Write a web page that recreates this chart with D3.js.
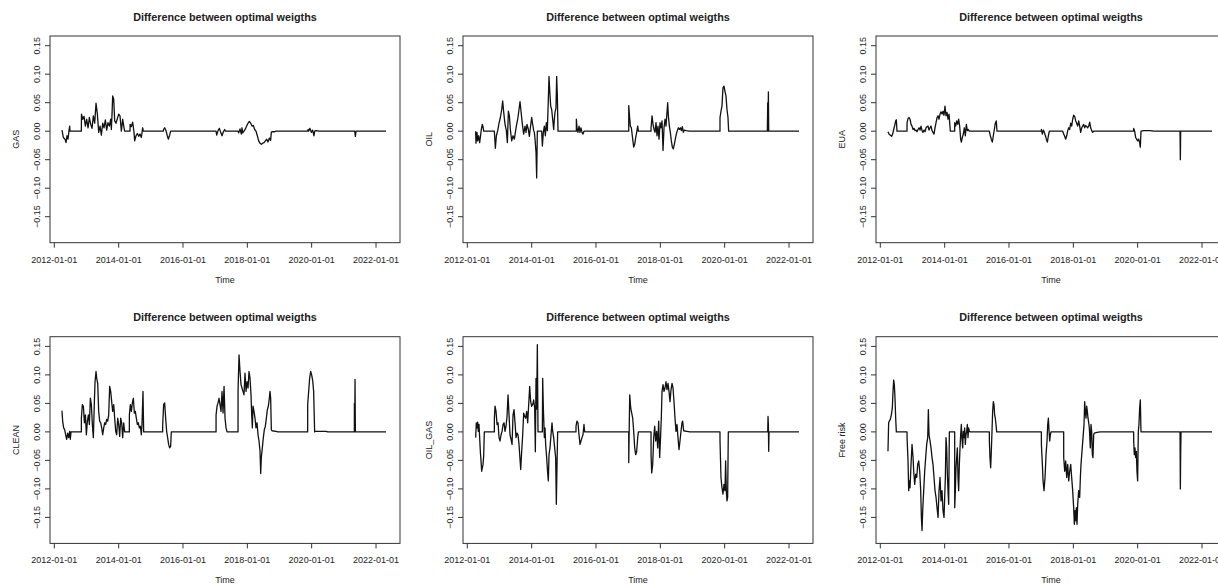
<!DOCTYPE html>
<html>
<head>
<meta charset="utf-8">
<script src="https://cdn.jsdelivr.net/npm/d3@7"></script>
<style>
  html, body { margin: 0; padding: 0; background: #fff; }
  svg { display: block; }
  text { font-family: "Liberation Sans", Arial, sans-serif; fill: #222; }
</style>
</head>
<body>
<div id="chart"></div>
<script>
// ---- data (time in decimal years, value = weight difference) ----
const seriesNames = ["GAS", "OIL", "EUA", "CLEAN", "OIL_GAS", "Free risk"];
const chartTitle = "Difference between optimal weigths";
const xAxisTitle = "Time";
const xTickLabels = ["2012-01-01", "2014-01-01", "2016-01-01", "2018-01-01", "2020-01-01", "2022-01-01"];
const yTickValues = [-0.15, -0.10, -0.05, 0.00, 0.05, 0.10, 0.15];

const GAS = [
[2012.238,0.002],[2012.280,-0.011],[2012.332,-0.014],[2012.363,-0.020],[2012.394,-0.008],[2012.425,-0.014],[2012.456,0.001],[2012.477,0.009],[2012.487,0],
[2012.839,0],[2012.843,0.030],[2012.881,0.021],[2012.922,0.026],[2012.964,0.009],[2013.005,0.021],[2013.047,0.006],[2013.088,0.024],[2013.130,0.012],[2013.171,0.005],[2013.212,0.027],[2013.254,0.014],[2013.295,0.049],[2013.337,0.030],[2013.378,-0.002],[2013.420,0.009],[2013.461,-0.007],[2013.503,0.014],[2013.544,0.006],[2013.585,0.020],[2013.627,0.002],[2013.668,0.015],[2013.710,0.009],[2013.751,0.021],[2013.772,0.003],[2013.793,0.030],[2013.813,0.062],[2013.845,0.056],[2013.876,0.018],[2013.917,0.014],[2013.959,0.022],[2014.000,0.030],[2014.041,0.027],[2014.083,0.000],[2014.124,0.021],[2014.166,0.006],[2014.187,0],
[2014.352,0],[2014.356,0.012],[2014.394,0.008],[2014.435,0.016],[2014.477,-0.002],[2014.497,-0.017],[2014.539,-0.008],[2014.580,-0.004],[2014.622,-0.009],[2014.663,-0.005],[2014.705,-0.011],[2014.746,0.006],[2014.767,0],
[2015.389,0],[2015.395,0.003],[2015.430,0.006],[2015.472,0.001],[2015.513,-0.008],[2015.544,-0.014],[2015.585,-0.007],[2015.617,0],
[2017.026,0],[2017.047,-0.007],[2017.088,0.001],[2017.130,0.005],[2017.171,-0.002],[2017.212,-0.008],[2017.254,-0.001],[2017.295,0.003],[2017.316,0],
[2017.710,0],[2017.731,-0.003],[2017.772,0.004],[2017.813,-0.005],[2017.834,0.006],[2017.855,-0.003],[2017.896,0],[2017.938,0.004],[2017.979,0.009],[2018.021,0.014],[2018.062,0.017],[2018.104,0.014],[2018.145,0.009],[2018.187,0.010],[2018.228,0.003],[2018.269,0],[2018.311,-0.008],[2018.352,-0.017],[2018.394,-0.021],[2018.435,-0.023],[2018.477,-0.021],[2018.518,-0.020],[2018.560,-0.017],[2018.601,-0.014],[2018.642,-0.019],[2018.684,-0.012],[2018.725,-0.016],[2018.746,-0.002],[2018.767,-0.001],[2018.850,-0.001],[2018.891,0],
[2019.876,0],[2019.890,0.003],[2019.907,0],[2019.948,0.005],[2019.990,-0.002],[2020.031,0.002],[2020.073,-0.008],[2020.093,0],[2020.135,0.001],[2020.238,0],
[2021.337,0],[2021.358,-0.009],[2021.378,0],[2022.311,0]
];

const OIL = [
[2012.259,0],[2012.269,-0.021],[2012.301,-0.002],[2012.321,-0.017],[2012.352,-0.008],[2012.383,-0.020],[2012.404,-0.011],[2012.435,0.003],[2012.466,0.012],[2012.487,0.008],[2012.508,0],
[2012.839,0],[2012.870,-0.030],[2012.902,-0.008],[2012.943,0.001],[2012.984,0.014],[2013.026,0.024],[2013.067,0.038],[2013.098,0.053],[2013.130,0.033],[2013.171,0.012],[2013.212,0.001],[2013.244,-0.020],[2013.275,0.035],[2013.306,0.027],[2013.337,0.003],[2013.378,-0.017],[2013.420,-0.008],[2013.461,-0.014],[2013.492,-0.002],[2013.523,0.009],[2013.565,0.021],[2013.606,0.038],[2013.637,0.052],[2013.668,0.035],[2013.710,0.012],[2013.751,-0.005],[2013.793,0.009],[2013.824,-0.002],[2013.855,0.012],[2013.896,0.003],[2013.927,-0.009],[2013.959,0.006],[2014.000,0.024],[2014.031,0.012],[2014.062,0.001],[2014.083,-0.002],[2014.104,-0.014],[2014.135,-0.037],[2014.155,-0.082],[2014.176,0],
[2014.311,0],[2014.332,-0.026],[2014.363,-0.002],[2014.394,0.009],[2014.425,-0.008],[2014.456,0.015],[2014.487,0.001],[2014.518,0.056],[2014.539,0.096],[2014.560,0.073],[2014.591,0.044],[2014.622,0.038],[2014.653,0.021],[2014.684,0.003],[2014.705,0.021],[2014.725,0.033],[2014.756,0.041],[2014.777,0.096],[2014.798,0.062],[2014.819,0],
[2015.389,0],[2015.390,0.021],[2015.409,0.006],[2015.440,-0.002],[2015.472,0.009],[2015.503,-0.002],[2015.534,0.006],[2015.565,-0.002],[2015.596,-0.005],[2015.627,0],
[2017.016,0],[2017.017,0.045],[2017.036,0.030],[2017.067,0.009],[2017.098,0.006],[2017.140,-0.014],[2017.171,-0.028],[2017.202,-0.023],[2017.233,-0.011],[2017.264,-0.002],[2017.295,0.009],[2017.316,0],
[2017.710,0],[2017.711,0.006],[2017.741,0.027],[2017.772,0.012],[2017.803,0.003],[2017.834,-0.002],[2017.865,0.015],[2017.896,-0.008],[2017.927,0.009],[2017.959,-0.014],[2017.990,0.015],[2018.021,0.006],[2018.052,0.018],[2018.083,-0.034],[2018.114,0.006],[2018.145,0.021],[2018.176,0.009],[2018.207,0.033],[2018.228,0.050],[2018.249,0.027],[2018.280,0.009],[2018.311,-0.002],[2018.342,-0.017],[2018.373,-0.028],[2018.404,-0.031],[2018.435,-0.023],[2018.466,-0.014],[2018.497,-0.005],[2018.528,0.001],[2018.560,0.006],[2018.591,0.003],[2018.622,0.006],[2018.653,0.001],[2018.684,0.008],[2018.715,-0.002],[2018.746,0.002],[2018.800,0.001],[2018.900,0],
[2019.855,0],[2019.856,0.024],[2019.886,0.035],[2019.917,0.044],[2019.948,0.076],[2019.979,0.079],[2020.010,0.070],[2020.041,0.062],[2020.073,0.038],[2020.104,0.024],[2020.124,0],
[2021.326,0],[2021.337,0.050],[2021.347,0],[2021.358,0.069],[2021.368,0],[2022.311,0]
];

const EUA = [
[2012.238,-0.001],[2012.269,-0.005],[2012.311,-0.007],[2012.352,-0.009],[2012.383,-0.005],[2012.415,0.003],[2012.446,0.010],[2012.477,0.018],[2012.497,0.020],[2012.518,0],
[2012.829,0],[2012.830,0.015],[2012.860,0.022],[2012.891,0.024],[2012.922,0.021],[2012.953,0.012],[2012.984,0.009],[2013.016,0.003],[2013.047,0.005],[2013.078,0.001],[2013.109,0.002],[2013.140,-0.001],[2013.171,0.003],[2013.202,0.006],[2013.233,0.002],[2013.264,0.009],[2013.295,0.001],[2013.326,-0.002],[2013.358,0.002],[2013.389,-0.001],[2013.420,0.006],[2013.451,0.008],[2013.482,0.009],[2013.513,0.002],[2013.544,0.006],[2013.575,0.009],[2013.606,0.001],[2013.637,-0.002],[2013.668,-0.005],[2013.699,0.006],[2013.731,0.015],[2013.762,0.024],[2013.793,0.027],[2013.824,0.021],[2013.855,0.030],[2013.886,0.034],[2013.917,0.030],[2013.948,0.035],[2013.979,0.028],[2014.010,0.044],[2014.041,0.027],[2014.073,0.033],[2014.104,0.021],[2014.135,0.030],[2014.176,0],
[2014.311,0],[2014.312,0.015],[2014.342,0.009],[2014.373,0.018],[2014.404,0.012],[2014.435,0.021],[2014.466,0.009],[2014.497,-0.014],[2014.518,-0.019],[2014.549,-0.011],[2014.580,-0.005],[2014.611,0.006],[2014.642,-0.008],[2014.674,0.012],[2014.705,0.001],[2014.736,0.003],[2014.767,0],
[2015.389,0],[2015.420,-0.008],[2015.451,-0.014],[2015.482,-0.019],[2015.513,-0.008],[2015.544,0.003],[2015.575,0.014],[2015.606,0.018],[2015.627,0],
[2017.005,0],[2017.006,0.003],[2017.036,-0.005],[2017.067,0.002],[2017.098,-0.002],[2017.130,-0.008],[2017.161,-0.014],[2017.192,-0.019],[2017.223,-0.008],[2017.254,0],
[2017.668,0],[2017.699,-0.005],[2017.731,-0.009],[2017.762,-0.014],[2017.793,-0.008],[2017.824,0.001],[2017.855,0.006],[2017.886,0.003],[2017.917,0.014],[2017.948,0.009],[2017.979,0.021],[2018.010,0.028],[2018.041,0.026],[2018.073,0.018],[2018.104,0.014],[2018.135,0.009],[2018.166,0.018],[2018.197,0.009],[2018.228,-0.002],[2018.259,0.006],[2018.290,0.009],[2018.321,0.012],[2018.352,0.006],[2018.383,0.010],[2018.415,0.008],[2018.446,0.006],[2018.477,0.009],[2018.508,0.016],[2018.539,0.006],[2018.570,0.001],[2018.601,-0.002],[2018.632,0],
[2019.876,0],[2019.877,0.005],[2019.907,0],[2019.938,-0.011],[2019.969,-0.014],[2020.000,-0.017],[2020.031,-0.014],[2020.062,-0.020],[2020.083,-0.028],[2020.104,0],[2020.187,0.001],[2020.394,0.001],[2020.497,0],
[2021.316,0],[2021.326,-0.050],[2021.336,0],[2022.311,0]
];

const CLEAN = [
[2012.238,0.037],[2012.259,0.019],[2012.290,0.007],[2012.321,0.004],[2012.352,-0.005],[2012.383,-0.013],[2012.415,-0.002],[2012.446,-0.010],[2012.477,0.001],[2012.497,-0.013],[2012.518,0],
[2012.839,0],[2012.840,0.024],[2012.870,0.048],[2012.902,0.045],[2012.933,0.016],[2012.964,0.030],[2012.995,-0.005],[2013.026,0.019],[2013.057,0.030],[2013.088,0.013],[2013.119,0.059],[2013.150,0.048],[2013.181,0.013],[2013.212,-0.010],[2013.244,0.053],[2013.264,0.088],[2013.295,0.106],[2013.316,0.094],[2013.347,0.085],[2013.378,0.036],[2013.409,0.019],[2013.440,0.016],[2013.472,0.007],[2013.503,-0.005],[2013.534,0.007],[2013.565,0.016],[2013.596,0.013],[2013.627,0.022],[2013.658,0.019],[2013.689,0.030],[2013.720,0.080],[2013.751,0.071],[2013.782,0.053],[2013.813,0.036],[2013.845,0.048],[2013.876,0.024],[2013.907,0.001],[2013.938,-0.005],[2013.969,0.024],[2014.000,0.013],[2014.031,-0.008],[2014.062,0.024],[2014.093,0.016],[2014.124,-0.010],[2014.155,0.016],[2014.187,0],
[2014.332,0],[2014.333,0.030],[2014.363,0.048],[2014.394,0.036],[2014.425,0.051],[2014.456,0.059],[2014.487,0.033],[2014.518,0.036],[2014.549,0.024],[2014.580,0.013],[2014.611,0.016],[2014.642,0.007],[2014.674,0.010],[2014.705,-0.005],[2014.725,0.013],[2014.756,0.071],[2014.777,0],
[2015.368,0],[2015.369,0.013],[2015.399,0.048],[2015.430,0.051],[2015.461,0.024],[2015.492,0.001],[2015.523,-0.010],[2015.554,-0.022],[2015.585,-0.028],[2015.617,-0.025],[2015.637,0],
[2017.026,0],[2017.027,0.030],[2017.057,0.045],[2017.088,0.051],[2017.119,0.059],[2017.150,0.048],[2017.181,0.036],[2017.212,0.071],[2017.244,0.033],[2017.275,0.080],[2017.306,0.024],[2017.337,0.007],[2017.368,0],
[2017.710,0],[2017.711,0.074],[2017.741,0.135],[2017.772,0.106],[2017.803,0.083],[2017.834,0.077],[2017.865,0.071],[2017.896,0.065],[2017.927,0.103],[2017.959,0.071],[2017.990,0.088],[2018.021,0.077],[2018.052,0.106],[2018.083,0.094],[2018.114,0.065],[2018.135,0.030],[2018.155,0.007],[2018.176,0.045],[2018.207,0.036],[2018.238,0.024],[2018.269,0.007],[2018.301,0.016],[2018.332,-0.005],[2018.363,-0.016],[2018.394,-0.034],[2018.415,-0.073],[2018.435,-0.045],[2018.466,-0.028],[2018.497,-0.010],[2018.528,0.004],[2018.560,0.010],[2018.591,0.024],[2018.622,0.039],[2018.653,0.045],[2018.684,0.059],[2018.705,0.071],[2018.725,0.059],[2018.746,0.004],[2018.767,0.002],[2018.891,0.001],[2018.950,0],
[2019.876,0],[2019.877,0.048],[2019.907,0.071],[2019.938,0.094],[2019.969,0.106],[2020.000,0.100],[2020.031,0.091],[2020.062,0.071],[2020.093,0],[2020.100,0.001],[2020.446,0.001],[2020.500,0],
[2021.326,0],[2021.327,0.050],[2021.337,0],[2021.347,0.092],[2021.358,0],[2022.311,0]
];

const OIL_GAS = [
[2012.259,-0.010],[2012.280,0.016],[2012.301,0.007],[2012.321,0.017],[2012.342,0.001],[2012.363,0.013],[2012.383,-0.010],[2012.404,-0.034],[2012.425,-0.051],[2012.446,-0.069],[2012.466,-0.063],[2012.487,-0.057],[2012.508,-0.042],[2012.528,0],
[2012.839,0],[2012.840,0.024],[2012.860,0.045],[2012.891,0.036],[2012.922,0.013],[2012.953,0.016],[2012.984,-0.010],[2013.016,-0.016],[2013.047,-0.005],[2013.078,0.001],[2013.109,0.013],[2013.140,0.016],[2013.171,0.001],[2013.202,0.010],[2013.233,0.027],[2013.264,0.065],[2013.295,0.030],[2013.326,-0.005],[2013.358,-0.013],[2013.389,-0.022],[2013.420,0.030],[2013.451,0.039],[2013.482,0.016],[2013.513,-0.010],[2013.544,-0.002],[2013.575,-0.005],[2013.606,-0.022],[2013.637,-0.048],[2013.658,-0.066],[2013.689,-0.034],[2013.720,-0.005],[2013.751,0.033],[2013.782,0.027],[2013.813,0.024],[2013.845,0.036],[2013.876,0.016],[2013.907,0.048],[2013.938,0.080],[2013.969,0.053],[2014.000,0.045],[2014.031,0.048],[2014.062,0.056],[2014.093,0.042],[2014.114,-0.035],[2014.135,0.094],[2014.155,0.040],[2014.176,0.153],[2014.197,0],
[2014.332,0],[2014.342,0.094],[2014.363,0.042],[2014.394,-0.010],[2014.415,0.007],[2014.435,-0.022],[2014.466,-0.045],[2014.497,-0.072],[2014.518,-0.086],[2014.539,-0.040],[2014.570,-0.028],[2014.601,-0.005],[2014.632,0.016],[2014.653,0.001],[2014.684,-0.010],[2014.715,-0.028],[2014.746,-0.045],[2014.767,-0.127],[2014.788,-0.057],[2014.808,0],
[2015.378,0],[2015.379,0.010],[2015.409,0.019],[2015.440,0.016],[2015.472,-0.005],[2015.503,-0.022],[2015.534,-0.016],[2015.565,-0.010],[2015.596,-0.005],[2015.627,0.013],[2015.648,0],
[2017.016,0],[2017.017,-0.054],[2017.030,0],[2017.047,0.065],[2017.078,0.042],[2017.109,0.033],[2017.140,0.024],[2017.171,0.001],[2017.202,-0.028],[2017.233,-0.040],[2017.264,-0.034],[2017.295,-0.010],[2017.316,0],
[2017.710,0],[2017.711,-0.040],[2017.731,-0.072],[2017.762,-0.057],[2017.793,-0.010],[2017.824,0.010],[2017.855,-0.016],[2017.886,0.001],[2017.917,-0.028],[2017.948,0.019],[2017.979,-0.045],[2018.010,-0.005],[2018.031,0.027],[2018.052,0.071],[2018.083,0.083],[2018.114,0.071],[2018.145,0.077],[2018.176,0.088],[2018.207,0.074],[2018.238,0.085],[2018.269,0.071],[2018.301,0.053],[2018.332,0.074],[2018.363,0.085],[2018.394,0.077],[2018.425,0.053],[2018.456,0.024],[2018.487,0.001],[2018.518,0.013],[2018.549,-0.010],[2018.580,-0.031],[2018.611,-0.016],[2018.642,0.001],[2018.674,0.016],[2018.694,0.019],[2018.725,0.002],[2018.819,0.001],[2018.922,0],
[2019.855,0],[2019.856,-0.016],[2019.886,-0.080],[2019.917,-0.098],[2019.948,-0.109],[2019.979,-0.092],[2020.010,-0.103],[2020.031,-0.051],[2020.052,-0.103],[2020.073,-0.121],[2020.093,-0.115],[2020.114,0],
[2021.337,0],[2021.347,0.027],[2021.358,0.012],[2021.368,-0.034],[2021.378,0],[2022.311,0]
];

const FREE_RISK = [
[2012.238,-0.034],[2012.259,0.016],[2012.280,0.019],[2012.311,0.022],[2012.342,0.030],[2012.373,0.042],[2012.394,0.071],[2012.415,0.091],[2012.435,0.083],[2012.456,0.059],[2012.477,0.024],[2012.497,0],
[2012.829,0],[2012.830,-0.010],[2012.860,-0.051],[2012.881,-0.103],[2012.902,-0.086],[2012.922,-0.098],[2012.953,-0.057],[2012.984,-0.022],[2013.016,-0.045],[2013.036,-0.069],[2013.067,-0.092],[2013.098,-0.074],[2013.130,-0.080],[2013.161,-0.057],[2013.192,-0.051],[2013.223,-0.069],[2013.254,-0.103],[2013.275,-0.150],[2013.295,-0.173],[2013.316,-0.138],[2013.347,-0.103],[2013.378,-0.069],[2013.409,-0.045],[2013.440,-0.022],[2013.472,-0.010],[2013.492,0.039],[2013.513,-0.005],[2013.544,-0.016],[2013.575,-0.028],[2013.606,-0.045],[2013.637,-0.057],[2013.668,-0.080],[2013.699,-0.103],[2013.731,-0.115],[2013.762,-0.133],[2013.793,-0.150],[2013.824,-0.103],[2013.855,-0.080],[2013.886,-0.121],[2013.917,-0.103],[2013.948,-0.138],[2013.979,-0.150],[2014.000,-0.115],[2014.021,-0.080],[2014.041,-0.010],[2014.062,-0.028],[2014.083,-0.074],[2014.104,-0.103],[2014.124,-0.127],[2014.145,0],
[2014.311,0],[2014.312,-0.133],[2014.332,-0.103],[2014.352,-0.063],[2014.373,-0.045],[2014.394,-0.028],[2014.415,-0.080],[2014.435,-0.103],[2014.456,-0.057],[2014.477,-0.028],[2014.497,-0.005],[2014.518,0.013],[2014.539,-0.013],[2014.560,-0.028],[2014.580,0.001],[2014.601,-0.010],[2014.622,0.007],[2014.642,-0.022],[2014.663,-0.005],[2014.684,0.001],[2014.705,0.013],[2014.725,-0.010],[2014.746,0.007],[2014.767,0.001],[2014.798,0],
[2015.389,0],[2015.390,-0.016],[2015.409,-0.045],[2015.430,-0.063],[2015.451,-0.034],[2015.472,0.001],[2015.492,0.036],[2015.513,0.053],[2015.534,0.048],[2015.554,0.030],[2015.575,0.024],[2015.596,0.013],[2015.617,0],
[2017.005,0],[2017.006,-0.022],[2017.036,-0.057],[2017.057,-0.086],[2017.088,-0.103],[2017.119,-0.080],[2017.150,-0.040],[2017.181,-0.016],[2017.202,0.013],[2017.223,0.024],[2017.244,0.001],[2017.264,-0.016],[2017.285,-0.005],[2017.306,0],
[2017.699,0],[2017.700,-0.045],[2017.731,-0.069],[2017.762,-0.051],[2017.793,-0.080],[2017.824,-0.057],[2017.855,-0.086],[2017.886,-0.069],[2017.917,-0.057],[2017.948,-0.080],[2017.979,-0.103],[2018.010,-0.133],[2018.031,-0.162],[2018.052,-0.138],[2018.073,-0.156],[2018.093,-0.133],[2018.114,-0.162],[2018.135,-0.127],[2018.166,-0.103],[2018.197,-0.115],[2018.218,-0.080],[2018.238,-0.057],[2018.269,-0.034],[2018.301,-0.010],[2018.332,0.013],[2018.352,0.053],[2018.373,0.036],[2018.394,0.024],[2018.415,0.045],[2018.435,0.036],[2018.456,0.024],[2018.477,0.016],[2018.497,0.007],[2018.528,-0.028],[2018.549,0.013],[2018.570,0.001],[2018.591,-0.040],[2018.611,-0.045],[2018.632,-0.005],[2018.653,-0.002],[2018.736,-0.001],[2018.839,0],
[2019.876,0],[2019.877,-0.016],[2019.896,-0.040],[2019.917,-0.028],[2019.938,-0.045],[2019.959,-0.034],[2019.979,-0.069],[2020.000,-0.086],[2020.021,0.001],[2020.041,0.013],[2020.062,0.042],[2020.083,0.056],[2020.104,0],
[2021.316,0],[2021.326,-0.100],[2021.337,-0.034],[2021.347,0],[2022.311,0]
];

const seriesData = [GAS, OIL, EUA, CLEAN, OIL_GAS, FREE_RISK];

// ---- layout ----
const W = 1218, H = 584;
const colLeft = [50, 463, 876];
const rowTop = [36, 336.7];
const pw = 350, ph = 206.7;
const xDomainYears = [2011.866, 2022.746];
const yDomain = [-0.1956, 0.167];

function yearToDate(t) {
  const y = Math.floor(t);
  const s = Date.UTC(y, 0, 1), e = Date.UTC(y + 1, 0, 1);
  return new Date(s + (t - y) * (e - s));
}
const parse = d3.utcParse("%Y-%m-%d");

const svg = d3.select("#chart").append("svg")
  .attr("width", W).attr("height", H);

seriesNames.forEach((name, i) => {
  const col = i % 3, row = Math.floor(i / 3);
  const left = colLeft[col], top = rowTop[row];
  const g = svg.append("g").attr("transform", `translate(${left},${top})`);

  const x = d3.scaleUtc().domain(xDomainYears.map(yearToDate)).range([0, pw]);
  const y = d3.scaleLinear().domain(yDomain).range([ph, 0]);

  // data line
  const line = d3.line()
    .x(d => x(yearToDate(d[0])))
    .y(d => y(d[1]));
  g.append("path")
    .datum(seriesData[i])
    .attr("d", line)
    .attr("fill", "none")
    .attr("stroke", "#111")
    .attr("stroke-width", 1.3)
    .attr("stroke-linejoin", "round");

  // box
  g.append("rect")
    .attr("x", 0).attr("y", 0).attr("width", pw).attr("height", ph)
    .attr("fill", "none").attr("stroke", "#333").attr("stroke-width", 1);

  // x axis
  const xt = xTickLabels.map(s => parse(s));
  const xa = g.append("g").attr("transform", `translate(0,${ph})`);
  xa.selectAll("line").data(xt).join("line")
    .attr("x1", d => x(d)).attr("x2", d => x(d))
    .attr("y1", 0).attr("y2", 5)
    .attr("stroke", "#333");
  xa.selectAll("text").data(xTickLabels).join("text")
    .attr("x", d => x(parse(d))).attr("y", 20)
    .attr("text-anchor", "middle")
    .attr("font-size", 9)
    .text(d => d);
  g.append("text")
    .attr("x", pw / 2).attr("y", ph + 40)
    .attr("text-anchor", "middle").attr("font-size", 9)
    .text(xAxisTitle);

  // y axis
  const ya = g.append("g");
  ya.selectAll("line").data(yTickValues).join("line")
    .attr("x1", 0).attr("x2", -5)
    .attr("y1", d => y(d)).attr("y2", d => y(d))
    .attr("stroke", "#333");
  ya.selectAll("text").data(yTickValues).join("text")
    .attr("transform", d => `translate(-10.5,${y(d)}) rotate(-90)`)
    .attr("text-anchor", "middle")
    .attr("font-size", 9)
    .text(d => d3.format(".2f")(d));
  g.append("text")
    .attr("transform", `translate(-31.5,${ph / 2}) rotate(-90)`)
    .attr("text-anchor", "middle").attr("font-size", 9)
    .text(name);

  // title
  g.append("text")
    .attr("x", pw / 2).attr("y", -15.5)
    .attr("text-anchor", "middle")
    .attr("font-size", 10.8).attr("font-weight", "bold")
    .text(chartTitle);
});
</script>
</body>
</html>
